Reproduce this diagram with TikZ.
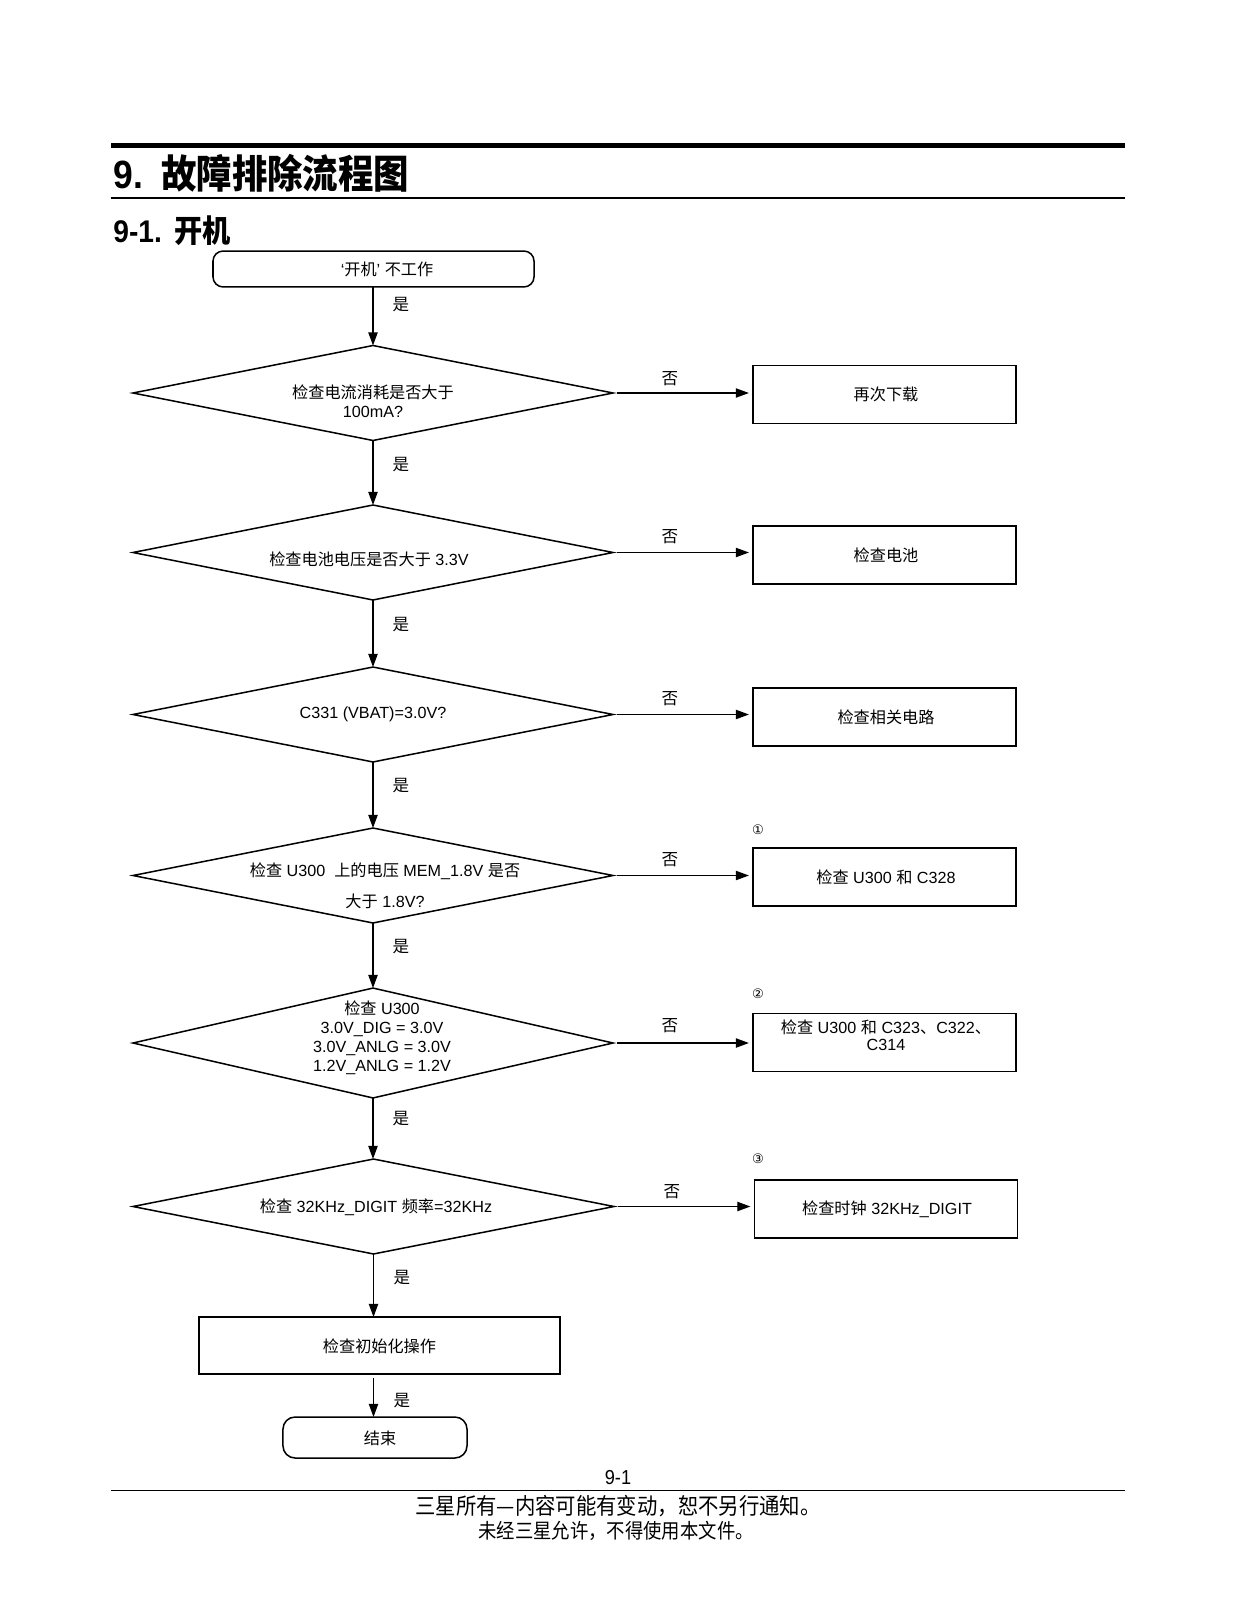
\documentclass[tikz,border=0pt]{standalone}
\usepackage{fontspec}
\usetikzlibrary{shapes.geometric,arrows.meta}
\setmainfont{Liberation Sans}
\newfontfamily\cjk{Noto Sans CJK SC}
\newfontfamily\cjkt[FakeStretch=0.9]{Noto Sans CJK SC}
\newfontfamily\cond[FakeStretch=0.9]{Liberation Sans}
\newfontfamily\sym{DejaVu Sans}
\newcommand\C[1]{{\cjk #1}}
\tikzset{
  box/.style={draw, line width=0.75pt, minimum width=130.2pt, minimum height=28.7pt, inner sep=0pt, outer sep=0pt},
  rbox/.style={draw, line width=0.75pt, rounded corners=5pt, inner sep=0pt, outer sep=0pt},
  dia/.style={draw, diamond, line width=0.75pt, inner sep=0pt, outer sep=0pt, minimum width=237.6pt, minimum height=47pt},
  txt/.style={font=\fontsize{8}{9.6}\selectfont, align=center, inner sep=0pt},
  lbl/.style={font=\fontsize{8.2}{10}\selectfont\cjk, inner sep=0pt},
  num/.style={font=\fontsize{6.5}{8}\selectfont\sym, inner sep=0pt},
  arr/.style={-{Triangle[length=6.5pt,width=4.6pt]}, line width=0.65pt},
}
\begin{document}
\begin{tikzpicture}[x=0.495pt,y=-0.495pt]
\useasboundingbox (0,0) rectangle (1237,1600);
\fill[white] (0,0) rectangle (1237,1600);
% header
\draw[line width=2pt] (111,145.5) -- (1125,145.5);
\draw[line width=1.3pt] (111,198) -- (1125,198);
\node[anchor=west, inner sep=0pt, font=\fontsize{19.5}{22}\selectfont] (title) at (113,173) {\cond\bfseries 9.\hspace{9pt}{\cjkt\bfseries 故障排除流程图}};
\node[anchor=west, inner sep=0pt, font=\fontsize{15.5}{18}\selectfont] (sub) at (113,231) {\cond\bfseries 9-1.\hspace{6pt}{\cjkt\bfseries 开机}};
% start
\node[rbox, minimum width=158.9pt, minimum height=17.8pt] (start) at (373.5,269) {};
\node[txt] (starttxt) at (387,269) {‘\C{开机}’ \C{不工作}};
% diamonds
\node[dia] (d1) at (373,393) {};
\node[txt] (t1) at (373,401) {\C{检查电流消耗是否大于}\\100mA?};
\node[dia] (d2) at (373,552.5) {};
\node[txt] (t2) at (369,559) {\C{检查电池电压是否大于} 3.3V};
\node[dia] (d3) at (373,714.5) {};
\node[txt] (t3) at (373,714.5) {C331 (VBAT)=3.0V?};
\node[dia] (d4) at (373,875.5) {};
\node[txt] (t4) at (385,886) {\C{检查} U300\ \ \C{上的电压} MEM\_1.8V \C{是否}\\[5.5pt]\C{大于} 1.8V?};
\node[dia, minimum height=54.4pt] (d5) at (373,1043) {};
\node[txt, font=\fontsize{8}{9.4}\selectfont] (t5) at (382,1038) {\C{检查} U300\\3.0V\_DIG = 3.0V\\3.0V\_ANLG = 3.0V\\1.2V\_ANLG = 1.2V};
\node[dia, minimum width=238.1pt] (d6) at (373.5,1206.5) {};
\node[txt] (t6) at (376,1207) {\C{检查} 32KHz\_DIGIT \C{频率}=32KHz};
% right boxes
\node[box] (b1) at (884.5,394.5) {};
\node[txt] (bt1) at (886,394.5) {\C{再次下载}};
\node[box] (b2) at (884.5,555) {};
\node[txt] (bt2) at (886,555) {\C{检查电池}};
\node[box] (b3) at (884.5,717) {};
\node[txt] (bt3) at (886,717) {\C{检查相关电路}};
\node[box] (b4) at (884.5,877) {};
\node[txt] (bt4) at (886,877) {\C{检查} U300 \C{和} C328};
\node[box] (b5) at (884.5,1042.5) {};
\node[txt, font=\fontsize{8}{8.6}\selectfont] (bt5) at (886,1035) {\C{检查} U300 \C{和} C323\C{、}C322\C{、}\\C314};
\node[box] (b6) at (886,1209) {};
\node[txt] (bt6) at (887,1209) {\C{检查时钟} 32KHz\_DIGIT};
% numbers
\node[num] (n1) at (758,830) {①};
\node[num] (n2) at (758,994) {②};
\node[num] (n3) at (758,1159) {③};
% bottom boxes
\node[box, minimum width=178.7pt, minimum height=28.2pt] (b7) at (379.5,1345.5) {};
\node[txt] (bt7) at (379.5,1346) {\C{检查初始化操作}};
\node[rbox, rounded corners=6pt, minimum width=91.1pt, minimum height=20.3pt] (end) at (375,1437.5) {};
\node[txt] (endtxt) at (380,1438) {\C{结束}};
% vertical arrows
\draw[arr] (start.south -| d1.north) -- (d1.north);
\draw[arr] (d1.south) -- (d2.north);
\draw[arr] (d2.south) -- (d3.north);
\draw[arr] (d3.south) -- (d4.north);
\draw[arr] (d4.south) -- (d5.north);
\draw[arr] (d5.south) -- (d5.south |- d6.north);
\draw[arr] (d6.south) -- (d6.south |- b7.north);
\draw[arr] ([yshift=-2pt]b7.south -| d6.south) -- (d6.south |- end.north);
% yes labels
\node[lbl] (y1) at (401,305) {是};
\node[lbl] (y2) at (401,465) {是};
\node[lbl] (y3) at (401,625) {是};
\node[lbl] (y4) at (401,786) {是};
\node[lbl] (y5) at (401,947) {是};
\node[lbl] (y6) at (401,1119) {是};
\node[lbl] (y7) at (402,1278) {是};
\node[lbl] (y8) at (402,1401) {是};
% horizontal arrows
\draw[arr] ([xshift=2pt]d1.east) -- ([xshift=-2pt]d1.east -| b1.west);
\draw[arr] ([xshift=2pt]d2.east) -- ([xshift=-2pt]d2.east -| b2.west);
\draw[arr] ([xshift=2pt]d3.east) -- ([xshift=-2pt]d3.east -| b3.west);
\draw[arr] ([xshift=2pt]d4.east) -- ([xshift=-2pt]d4.east -| b4.west);
\draw[arr] ([xshift=2pt]d5.east) -- ([xshift=-2pt]d5.east -| b5.west);
\draw[arr] ([xshift=2pt]d6.east) -- ([xshift=-2pt]d6.east -| b6.west);
% no labels
\node[lbl] (no1) at (670,379) {否};
\node[lbl] (no2) at (670,537) {否};
\node[lbl] (no3) at (670,699) {否};
\node[lbl] (no4) at (670,860) {否};
\node[lbl] (no5) at (670,1026) {否};
\node[lbl] (no6) at (672,1192) {否};
% footer
\node[inner sep=0pt, font=\fontsize{10}{12}\selectfont\cond] (pg) at (618,1478) {9-1};
\draw[line width=0.5pt] (111,1490) -- (1125,1490);
\node[inner sep=0pt, font=\fontsize{11.2}{13}\selectfont\cjkt] (f1) at (618,1506) {三星所有—内容可能有变动，恕不另行通知。};
\node[inner sep=0pt, font=\fontsize{10.1}{12}\selectfont\cjkt] (f2) at (616,1531) {未经三星允许，不得使用本文件。};
\end{tikzpicture}
\end{document}
